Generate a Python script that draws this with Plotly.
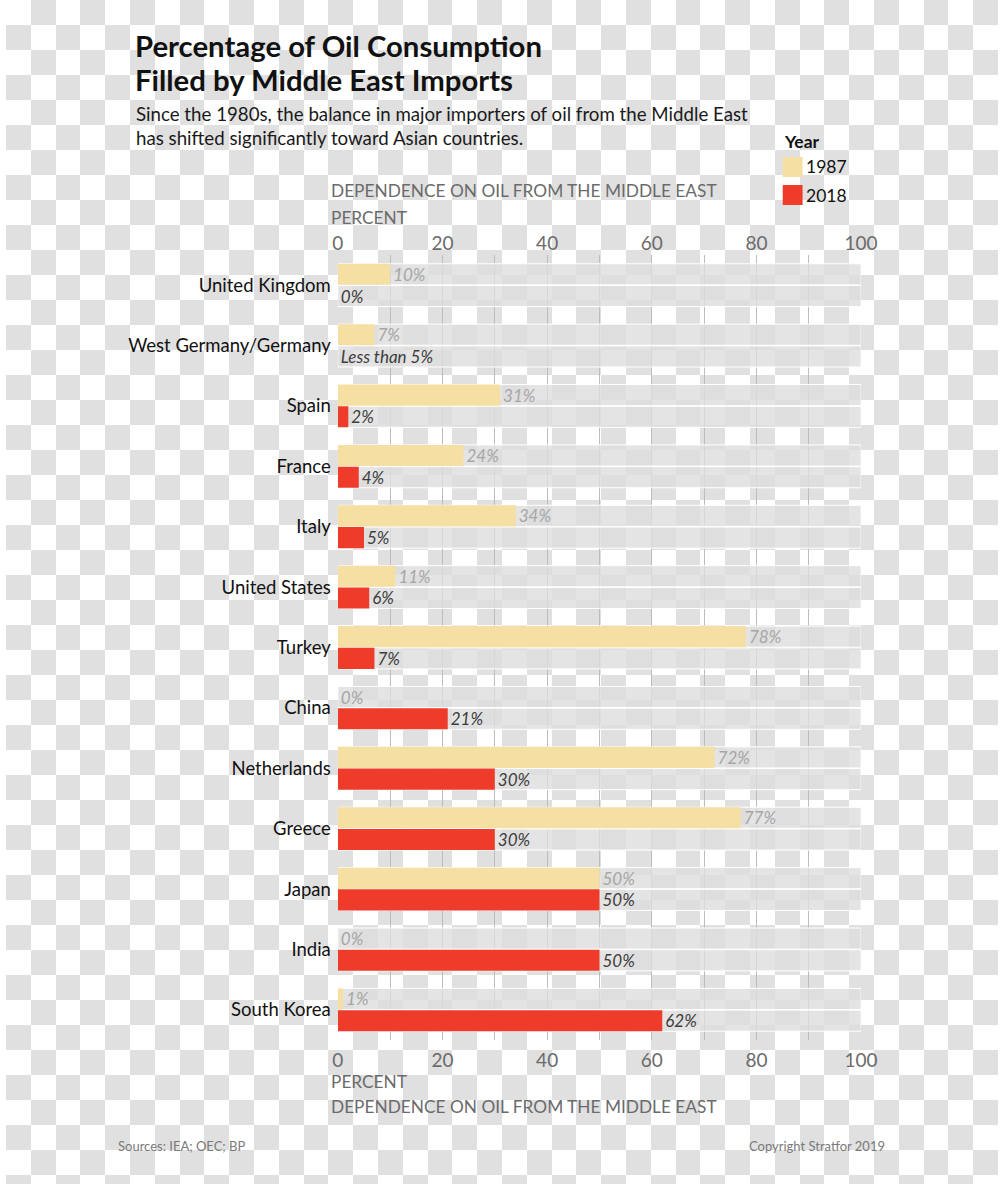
import plotly.graph_objects as go

# ---------------- data ----------------
countries = ["United Kingdom", "West Germany/Germany", "Spain", "France", "Italy",
             "United States", "Turkey", "China", "Netherlands", "Greece", "Japan",
             "India", "South Korea"]
values_1987 = [10, 7, 31, 24, 34, 11, 78, 0, 72, 77, 50, 0, 1]
values_2018 = [0, 0, 2, 4, 5, 6, 7, 21, 30, 30, 50, 50, 62]
labels_1987 = ["10%", "7%", "31%", "24%", "34%", "11%", "78%", "0%", "72%", "77%",
               "50%", "0%", "1%"]
labels_2018 = ["0%", "Less than 5%", "2%", "4%", "5%", "6%", "7%", "21%", "30%",
               "30%", "50%", "50%", "62%"]
track_full = [100] * len(countries)
years = ["1987", "2018"]
x_ticks = [0, 20, 40, 60, 80, 100]

# ---------------- style ----------------
REF_W, H = 1000, 1184
PAGE_W = 1015             # page width that ends up photographed as 1000 px
FONT = "Lato"
C1987 = "#f5dfa3"
C2018 = "#ee3b2a"
TRACK = "rgba(221,221,221,0.8)"
GRID = "#bdbdbd"
AXTXT = "#6b6b6b"


def fx(p):
    return p / REF_W


def fy(p):
    return 1 - p / H


xdom = [fx(334.5), fx(862)]
ydom = [fy(1040), fy(255)]

fig = go.Figure()

# transparent-looking checkerboard background
nc, nr = 40, 48
z = [[(i + j) % 2 for j in range(nc)] for i in range(nr)]
fig.add_trace(go.Heatmap(z=z, x0=12.5, dx=25, y0=12.5, dy=25,
                         colorscale=[[0, "#ffffff"], [1, "#e0e0e0"]],
                         showscale=False, hoverinfo="skip", zsmooth=False,
                         xaxis="x", yaxis="y"))

# grey tracks
for name in years:
    fig.add_trace(go.Bar(y=countries, x=track_full, orientation="h",
                         xaxis="x2", yaxis="y2", showlegend=False,
                         marker=dict(color=TRACK, line=dict(color="white", width=1)),
                         hoverinfo="skip"))

# real bars
fig.add_trace(go.Bar(y=countries, x=values_1987, orientation="h", name=years[0],
                     xaxis="x3", yaxis="y3", marker=dict(color=C1987, line=dict(width=0)),
                     text=labels_1987, textposition="outside", cliponaxis=False,
                     textfont=dict(family=FONT, size=17, color="#a6a6a6", style="italic"),
                     showlegend=False))
fig.add_trace(go.Bar(y=countries, x=values_2018, orientation="h", name=years[1],
                     xaxis="x3", yaxis="y3", marker=dict(color=C2018, line=dict(width=0)),
                     text=labels_2018, textposition="outside", cliponaxis=False,
                     textfont=dict(family=FONT, size=17, color="#3d3d3d", style="italic"),
                     showlegend=False))

tickfont = dict(family=FONT, size=19, color=AXTXT)

fig.update_layout(
    width=PAGE_W, height=H, autosize=False,
    margin=dict(l=0, r=0, t=0, b=0),
    paper_bgcolor="white",
    plot_bgcolor="rgba(0,0,0,0)",
    barmode="group", bargap=0.28, bargroupgap=0.03,
    showlegend=False,
    font=dict(family=FONT),
    xaxis=dict(domain=[0, 1], range=[0, REF_W], visible=False, fixedrange=True),
    yaxis=dict(domain=[0, 1], range=[H, 0], visible=False, fixedrange=True),
    xaxis2=dict(domain=xdom, range=[0, 100], anchor="y2", side="bottom",
                tickmode="array", tickvals=x_ticks, tickfont=tickfont,
                showgrid=True, gridcolor=GRID, gridwidth=1, zeroline=False,
                showline=False, ticks="outside", ticklen=3, tickcolor="rgba(0,0,0,0)",
                minor=dict(dtick=10, tick0=0, showgrid=True, gridcolor=GRID, gridwidth=1)),
    yaxis2=dict(domain=ydom, anchor="x2", categoryorder="array", categoryarray=countries,
                autorange="reversed", showgrid=False, zeroline=False,
                tickfont=dict(family=FONT, size=18.5, color="#111111"),
                ticklabelstandoff=6),
    xaxis3=dict(domain=xdom, range=[0, 100], anchor="y3", overlaying="x2", side="top",
                tickmode="array", tickvals=x_ticks, tickfont=tickfont,
                showgrid=False, zeroline=False, showline=False, ticks=""),
    yaxis3=dict(domain=ydom, anchor="x3", overlaying="y2", categoryorder="array",
                categoryarray=countries, autorange="reversed", showgrid=False,
                zeroline=False, showticklabels=False),
)

ann = []
# title and subtitle
ann.append(dict(text="<b>Percentage of Oil Consumption</b>", x=fx(128), y=fy(45),
                font=dict(family=FONT, size=29.3, color="#111111")))
ann.append(dict(text="<b>Filled by Middle East Imports</b>", x=fx(128), y=fy(80),
                font=dict(family=FONT, size=29.3, color="#111111")))
ann.append(dict(text="Since the 1980s, the balance in major importers of oil from the Middle East",
                x=fx(129), y=fy(114), font=dict(family=FONT, size=18.7, color="#1a1a1a")))
ann.append(dict(text="has shifted significantly toward Asian countries.",
                x=fx(129), y=fy(138), font=dict(family=FONT, size=18.7, color="#1a1a1a")))
# axis titles
axt = dict(family=FONT, size=17.3, color=AXTXT)
ann.append(dict(text="DEPENDENCE ON OIL FROM THE MIDDLE EAST", x=fx(326), y=fy(190), font=axt))
ann.append(dict(text="PERCENT", x=fx(326), y=fy(218), font=axt))
ann.append(dict(text="PERCENT", x=fx(326), y=fy(1081), font=axt))
ann.append(dict(text="DEPENDENCE ON OIL FROM THE MIDDLE EAST", x=fx(326), y=fy(1106), font=axt))
# legend
ann.append(dict(text="<b>Year</b>", x=fx(782), y=fy(141), font=dict(family=FONT, size=17.5, color="#111111")))
ann.append(dict(text=years[0], x=fx(804), y=fy(167), font=dict(family=FONT, size=17.5, color="#111111")))
ann.append(dict(text=years[1], x=fx(804), y=fy(195), font=dict(family=FONT, size=17.5, color="#111111")))
# footer
ann.append(dict(text="Sources: IEA; OEC; BP", x=fx(111), y=fy(1146),
                font=dict(family=FONT, size=13, color="#7a7a7a")))
ann.append(dict(text="Copyright Stratfor 2019", x=fx(888), y=fy(1146), xanchor="right",
                font=dict(family=FONT, size=13, color="#7a7a7a")))

for a in ann:
    a.setdefault("xanchor", "left")
    a.update(xref="paper", yref="paper", yanchor="middle", showarrow=False)
fig.update_layout(annotations=ann)

fig.update_layout(shapes=[
    dict(type="rect", xref="paper", yref="paper", x0=fx(783), x1=fx(803), y0=fy(177), y1=fy(157),
         fillcolor=C1987, line=dict(width=0)),
    dict(type="rect", xref="paper", yref="paper", x0=fx(783), x1=fx(803), y0=fy(205), y1=fy(185),
         fillcolor=C2018, line=dict(width=0)),
])

fig.write_html(
    "out.html",
    config={"displayModeBar": False, "responsive": False},
    post_script="document.body.style.margin='0';document.body.style.overflow='hidden';"
                "document.documentElement.style.overflow='hidden';"
                "document.body.style.background='repeating-conic-gradient(#e0e0e0 0 25%, #ffffff 0 50%) 0 0/50px 50px';",
)
